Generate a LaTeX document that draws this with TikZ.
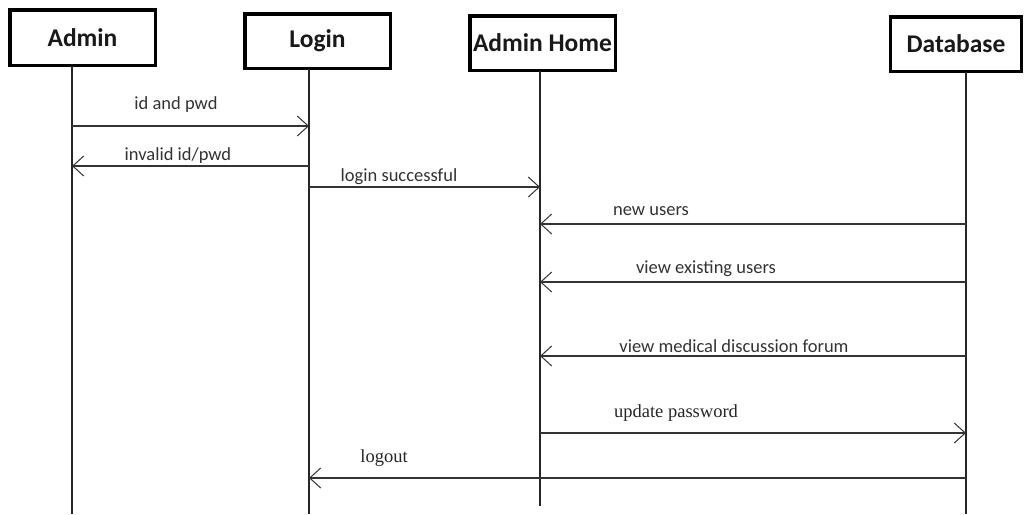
\documentclass[tikz,border=0pt]{standalone}
\usepackage{fontspec}
\usetikzlibrary{arrows.meta}
\newfontfamily\calfont{Carlito}
\newfontfamily\timesfont{Liberation Serif}
\begin{document}
\begin{tikzpicture}[x=1pt,y=-1pt,
  box/.style={draw, line width=3.5pt, fill=white, inner sep=0pt,
    font=\calfont\bfseries\fontsize{25.5}{30}\selectfont, text=black!90},
  life/.style={line width=1.1pt, black!85},
  msg/.style={line width=1.2pt, black!80,
    -{Straight Barb[length=11pt,width=20pt,line width=1pt]}},
  lbl/.style={inner sep=0pt, text=black!80,
    font=\calfont\fontsize{18.5}{22}\selectfont},
  slbl/.style={inner sep=0pt, text=black!85,
    font=\timesfont\fontsize{18.5}{22}\selectfont},
]
\useasboundingbox[fill=white] (0,0) rectangle (1027,514);

% participants
\node[box, minimum width=145.5pt, minimum height=55.5pt] (admin) at (82.5,37.5) {Admin};
\node[box, minimum width=145.5pt, minimum height=54.5pt] (login) at (317.5,41) {Login};
\node[box, minimum width=145.5pt, minimum height=54.5pt] (home) at (542.5,43) {Admin Home};
\node[box, minimum width=131pt, minimum height=54.5pt] (db) at (956,44) {Database};

% lifelines
\coordinate (lA) at (72,66);
\coordinate (lL) at (309,69);
\coordinate (lH) at (540,71);
\coordinate (lD) at (966,72);
\coordinate (eA) at (72,514);
\coordinate (eL) at (309,514);
\coordinate (eH) at (540,506);
\coordinate (eD) at (966,514);
\draw[life] (lA) -- (eA);
\draw[life] (lL) -- (eL);
\draw[life] (lH) -- (eH);
\draw[life] (lD) -- (eD);

% messages
\draw[msg] (lA |- 0,126) -- (lL |- 0,126);
\node[lbl] (m1) at (176,105) {id and pwd};

\draw[msg] (lL |- 0,166) -- (lA |- 0,166);
\node[lbl] (m2) at (178,156) {invalid id/pwd};

\draw[msg] (lL |- 0,187) -- (lH |- 0,187);
\node[lbl] (m3) at (399,177) {login successful};

\draw[msg] (lD |- 0,224) -- (lH |- 0,224);
\node[lbl] (m4) at (651,211) {new users};

\draw[msg] (lD |- 0,282) -- (lH |- 0,282);
\node[lbl] (m5) at (706,269) {view existing users};

\draw[msg] (lD |- 0,356) -- (lH |- 0,356);
\node[lbl] (m6) at (734,346) {view medical discussion forum};

\draw[msg] (lH |- 0,433) -- (lD |- 0,433);
\node[slbl] (m7) at (676,413) {update password};

\draw[msg] (lD |- 0,478) -- (lL |- 0,478);
\node[slbl] (m8) at (384,458) {logout};
\end{tikzpicture}
\end{document}
